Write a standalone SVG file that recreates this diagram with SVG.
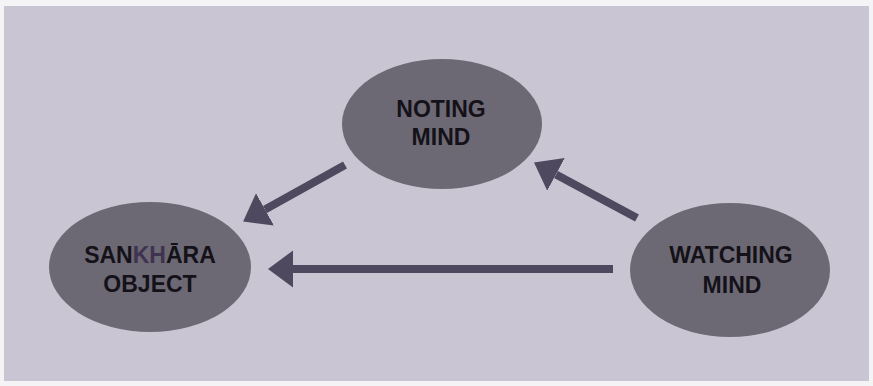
<svg xmlns="http://www.w3.org/2000/svg" width="873" height="386" viewBox="0 0 873 386">
<style>
.node ellipse{fill:#6c6975;}
.node text{font-family:"Liberation Sans",Arial,sans-serif;font-weight:bold;font-size:23px;fill:#141218;text-anchor:middle;}
.kh{fill:#3f3350;}
.conn line{stroke:#4f4960;stroke-width:8;fill:none;}
</style>
<defs>
<marker id="ah" markerUnits="userSpaceOnUse" markerWidth="26" markerHeight="38" refX="0" refY="18.5" orient="auto" viewBox="0 0 26 38">
<path d="M0,0 L25,18.5 L0,37 z" fill="#4f4960"/>
</marker>
</defs>
<rect x="0" y="0" width="873" height="386" fill="#f4f3f6"/>
<rect x="4" y="6" width="865" height="375" fill="#c9c5d3"/>
<g class="conn">
<line x1="345" y1="165" x2="265" y2="209.4" marker-end="url(#ah)"/>
<line x1="637" y1="218" x2="556" y2="174.4" marker-end="url(#ah)"/>
<line x1="613" y1="269" x2="293" y2="269" marker-end="url(#ah)"/>
</g>
<g id="noting" class="node">
<ellipse cx="442" cy="124" rx="100" ry="65"/>
<text x="441" y="117">NOTING</text>
<text x="441" y="145">MIND</text>
</g>
<g id="sankhara" class="node">
<ellipse cx="150" cy="267" rx="101" ry="65"/>
<text x="150" y="263">SAN<tspan class="kh">KH</tspan>ĀRA</text>
<text x="150" y="292">OBJECT</text>
</g>
<g id="watching" class="node">
<ellipse cx="730" cy="270" rx="100" ry="67"/>
<text x="731" y="263">WATCHING</text>
<text x="732" y="293">MIND</text>
</g>
</svg>
